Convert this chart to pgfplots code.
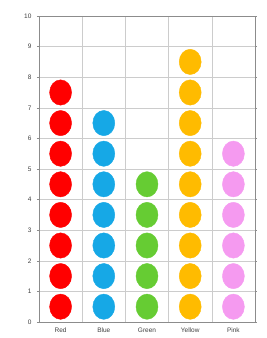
\documentclass[border=0pt]{standalone}
\usepackage{pgfplots}
\pgfplotsset{compat=1.18}
\usepackage{fontspec}
\setmainfont{Liberation Sans}
\definecolor{cRed}{HTML}{FF0000}
\definecolor{cBlue}{HTML}{16A8E6}
\definecolor{cGreen}{HTML}{66CC33}
\definecolor{cYellow}{HTML}{FFBB00}
\definecolor{cPink}{HTML}{F59AF0}
\pgfplotsset{dots/.style={only marks, mark=*, mark size=11pt, draw=#1, fill=#1, color=#1, mark options={draw=#1, fill=#1, yscale=1.15}}}
\begin{document}
\begin{tikzpicture}
\begin{axis}[
  anchor=south west, at={(0,0)},
  width=216pt, height=306pt, scale only axis,
  xmin=0, xmax=5, ymin=0, ymax=10,
  xtick={0.5,1.5,2.5,3.5,4.5},
  xticklabels={Red,Blue,Green,Yellow,Pink},
  ytick={0,1,...,10},
  minor xtick={1,2,3,4},
  xmajorgrids=false, xminorgrids=true, ymajorgrids=true,
  grid style={draw=black!20, line width=0.5pt},
  minor grid style={draw=black!20, line width=0.5pt},
  axis line style={draw=black!45, line width=0.8pt},
  major x tick style={draw=none},
  minor x tick style={draw=none},
  y tick style={draw=black!45},
  tick align=outside, major tick length=2pt,
  ticklabel style={font=\fontsize{6.5}{7}\selectfont, text=black!75},
  /pgf/number format/assume math mode=true,
  xticklabel style={yshift=0pt},
  yticklabel style={xshift=-2pt},
  clip=false,
]
\addplot[dots=cRed]
  coordinates {(0.5,0.5)(0.5,1.5)(0.5,2.5)(0.5,3.5)(0.5,4.5)(0.5,5.5)(0.5,6.5)(0.5,7.5)};
\addplot[dots=cBlue]
  coordinates {(1.5,0.5)(1.5,1.5)(1.5,2.5)(1.5,3.5)(1.5,4.5)(1.5,5.5)(1.5,6.5)};
\addplot[dots=cGreen]
  coordinates {(2.5,0.5)(2.5,1.5)(2.5,2.5)(2.5,3.5)(2.5,4.5)};
\addplot[dots=cYellow]
  coordinates {(3.5,0.5)(3.5,1.5)(3.5,2.5)(3.5,3.5)(3.5,4.5)(3.5,5.5)(3.5,6.5)(3.5,7.5)(3.5,8.5)};
\addplot[dots=cPink]
  coordinates {(4.5,0.5)(4.5,1.5)(4.5,2.5)(4.5,3.5)(4.5,4.5)(4.5,5.5)};
\end{axis}
\path[use as bounding box] (-39pt,-16pt) rectangle (228pt,322pt);
\end{tikzpicture}
\end{document}
